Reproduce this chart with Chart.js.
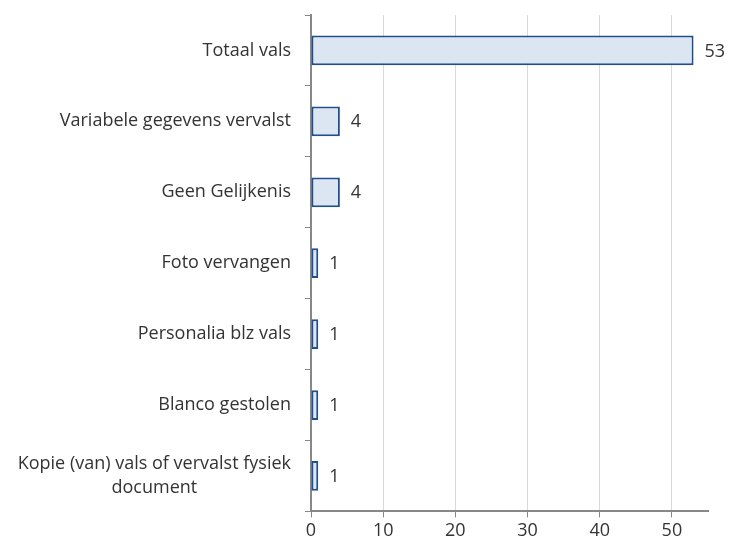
<!DOCTYPE html>
<html>
<head>
<meta charset="utf-8">
<script src="https://cdn.jsdelivr.net/npm/chart.js@4"></script>
<style>
  html, body { margin: 0; padding: 0; background: #fff; }
  #wrap { width: 729px; height: 545px; position: relative; }
</style>
</head>
<body>
<div id="wrap"><canvas id="chart"></canvas></div>
<script>
const categories = [
    "Totaal vals",
    "Variabele gegevens vervalst",
    "Geen Gelijkenis",
    "Foto vervangen",
    "Personalia blz vals",
    "Blanco gestolen",
    ["Kopie (van) vals of vervalst fysiek", "document"]
];
const counts = [53, 4, 4, 1, 1, 1, 1];
const xTicks = [0, 10, 20, 30, 40, 50];

const fontFamily = "'Open Sans', Lato, sans-serif";
const fontSize = 18;
const textColor = "#333333";
const axisColor = "#878787";

// value label right of each bar
const valueLabels = {
    id: "valueLabels",
    afterDatasetsDraw(chart) {
        const ctx = chart.ctx;
        const meta = chart.getDatasetMeta(0);
        ctx.save();
        ctx.font = fontSize + "px " + fontFamily;
        ctx.fillStyle = textColor;
        ctx.textAlign = "left";
        ctx.textBaseline = "middle";
        meta.data.forEach((bar, i) => {
            ctx.fillText(String(counts[i]), bar.x + 11, bar.y + 1);
        });
        ctx.restore();
    }
};

// category labels, right aligned block, lines centred inside the block
const categoryLabels = {
    id: "categoryLabels",
    afterDraw(chart) {
        const ctx = chart.ctx;
        const y = chart.scales.y;
        const right = y.right - 20;
        const lh = 24;
        ctx.save();
        ctx.font = fontSize + "px " + fontFamily;
        ctx.fillStyle = textColor;
        ctx.textAlign = "center";
        ctx.textBaseline = "middle";
        categories.forEach((lab, i) => {
            const lines = Array.isArray(lab) ? lab : [lab];
            const w = Math.max(...lines.map(l => ctx.measureText(l).width));
            const cy = y.getPixelForTick(i);
            const top = cy - (lines.length - 1) * lh / 2;
            lines.forEach((l, j) => ctx.fillText(l, right - w / 2, top + j * lh));
        });
        ctx.restore();
    }
};

new Chart("chart", {
    type: "bar",
    data: {
        labels: categories,
        datasets: [{
            data: counts,
            backgroundColor: "#dce6f2",
            borderColor: "#1f4e8c",
            borderWidth: 2,
            borderSkipped: false,
            barPercentage: 0.84,
            categoryPercentage: 0.5
        }]
    },
    options: {
        indexAxis: "y",
        responsive: true,
        maintainAspectRatio: false,
        animation: false,
        layout: { padding: { top: 15, right: 21, bottom: 0, left: 0 } },
        plugins: {
            legend: { display: false },
            tooltip: { enabled: false }
        },
        scales: {
            x: {
                min: 0,
                max: 55,
                afterBuildTicks(scale) {
                    scale.ticks = xTicks.map(v => ({ value: v }));
                },
                grid: {
                    color: "#d9d9d9",
                    tickColor: axisColor,
                    tickLength: 6,
                    lineWidth: 1
                },
                border: { color: axisColor, width: 2 },
                ticks: {
                    color: textColor,
                    font: { family: fontFamily, size: fontSize },
                    padding: 3
                }
            },
            y: {
                afterFit(scale) {
                    scale.width = 311;
                    scale.paddingTop = 0;
                    scale.paddingBottom = 0;
                },
                grid: {
                    drawOnChartArea: false,
                    tickColor: axisColor,
                    tickLength: 6,
                    offset: true
                },
                border: { color: axisColor, width: 2 },
                ticks: { display: false }
            }
        }
    },
    plugins: [valueLabels, categoryLabels]
});
</script>
</body>
</html>
